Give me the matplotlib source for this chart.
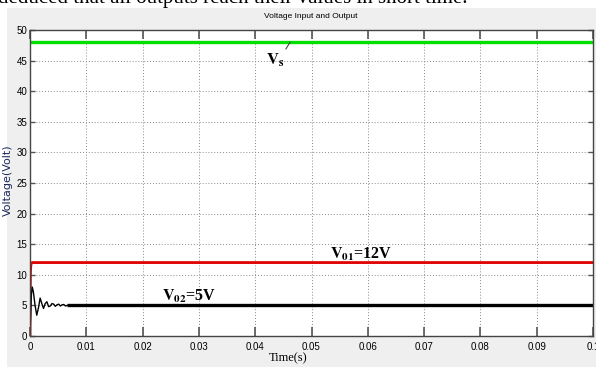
# ================= IMPORT LIBRARIES =================
import matplotlib
matplotlib.use("Agg")
import matplotlib.pyplot as plt
from matplotlib.patches import Rectangle

plt.rcParams["mathtext.fontset"] = "stix"

# ================= DATA =================
# input voltage
vs_t = [0.0, 0.1]
vs_v = [48, 48]

# output 1 (12 V)
vo1_t = [0.0, 0.00003, 0.00008, 0.00015, 0.00025, 0.0004, 0.1]
vo1_v = [0.0, 6.0, 10.5, 11.6, 11.9, 12.0, 12.0]

# output 2 (5 V) start-up ringing
vo2_tr_t = [0.0, 0.0001, 0.00025, 0.0004, 0.0006, 0.0009, 0.0012, 0.0015, 0.0018,
            0.0021, 0.0024, 0.0027, 0.003, 0.0033, 0.0036, 0.0039, 0.0042,
            0.0045, 0.0048, 0.0051, 0.0054, 0.0057, 0.006, 0.0063, 0.0066]
vo2_tr_v = [0.5, 3.0, 6.8, 8.0, 7.2, 5.0, 3.4, 4.6, 6.2, 5.3, 4.5, 5.3, 5.6,
            4.8, 4.9, 5.3, 5.2, 4.85, 5.1, 5.2, 4.9, 5.1, 5.15, 4.9, 5.0]

# output 2 steady state
vo2_t = [0.0066, 0.1]
vo2_v = [5, 5]

x_ticks = [0, 0.01, 0.02, 0.03, 0.04, 0.05, 0.06, 0.07, 0.08, 0.09, 0.1]
x_tick_labels = ["0", "0.01", "0.02", "0.03", "0.04", "0.05", "0.06", "0.07",
                 "0.08", "0.09", "0.1"]
y_ticks = [0, 5, 10, 15, 20, 25, 30, 35, 40, 45, 50]

serif = "Liberation Serif"
sans = "Liberation Sans"

# ================= FIGURE =================
fig = plt.figure(figsize=(5.96, 3.67), dpi=100, facecolor="white")
fig.patches.append(Rectangle((7 / 596, 0), 1, 1 - 8 / 367, transform=fig.transFigure,
                             facecolor="#efefef", edgecolor="none", zorder=-10))
fig.text(-0.004, 1 - 3 / 367, "deduced that all outputs reach their values in short time.",
         fontsize=15, family=serif, ha="left", va="baseline", color="black")

ax = fig.add_axes([30 / 596, 31 / 367, 563 / 596, 306 / 367])
ax.set_facecolor("white")

# ================= PLOT =================
ax.plot(vs_t, vs_v, color="#00e000", lw=2.4, solid_capstyle="butt")
ax.plot(vo1_t, vo1_v, color="#e00000", lw=2.0, solid_capstyle="butt")
ax.plot(vo2_tr_t, vo2_tr_v, color="black", lw=1.0)
ax.plot(vo2_t, vo2_v, color="black", lw=2.4, solid_capstyle="butt")

ax.set_xlim(0, 0.1)
ax.set_ylim(0, 50)
ax.set_xticks(x_ticks)
ax.set_xticklabels(x_tick_labels)
ax.set_yticks(y_ticks)

ax.grid(True, color="#8a8a8a", linestyle=(0, (1, 2)), linewidth=0.7)
ax.tick_params(axis="both", direction="in", top=True, right=True, colors="#555555",
               labelcolor="black", labelsize=7)
ax.tick_params(axis="x", length=6.5, width=1.2, pad=4)
ax.tick_params(axis="y", length=3.6, width=1.0, pad=2)
for lab in ax.get_xticklabels() + ax.get_yticklabels():
    lab.set_family(sans)
for sp in ax.spines.values():
    sp.set_color("#444444")
    sp.set_linewidth(1.0)

# ================= LABELS =================
fig.text(311 / 596, 1 - 17 / 367, "Voltage Input and Output", fontsize=6,
         family=sans, ha="center", va="center")
fig.text(8 / 596, 1 - 180 / 367, "Voltage(Volt)", fontsize=8, rotation=90,
         color="#1c2a5a", ha="center", va="center")
fig.text(288 / 596, 1 - 358 / 367, "Time(s)", fontsize=9, family=serif,
         ha="center", va="center")

ax.text(0.0533, 12.7, r"$\mathbf{V_{01}}$=12V", fontsize=11.5, family=serif,
        fontweight="bold", ha="left", va="baseline")
ax.text(0.0234, 5.8, r"$\mathbf{V_{02}}$=5V", fontsize=11.5, family=serif,
        fontweight="bold", ha="left", va="baseline")
ax.annotate(r"$\mathbf{V_s}$", xy=(0.0462, 48), xytext=(0.0435, 45.0),
            fontsize=12, family=serif, ha="center", va="center",
            arrowprops=dict(arrowstyle="-", color="#333333", lw=0.7,
                            relpos=(0.85, 0.75), shrinkA=0, shrinkB=0))

fig.savefig("out.png", dpi=100, facecolor=fig.get_facecolor())
